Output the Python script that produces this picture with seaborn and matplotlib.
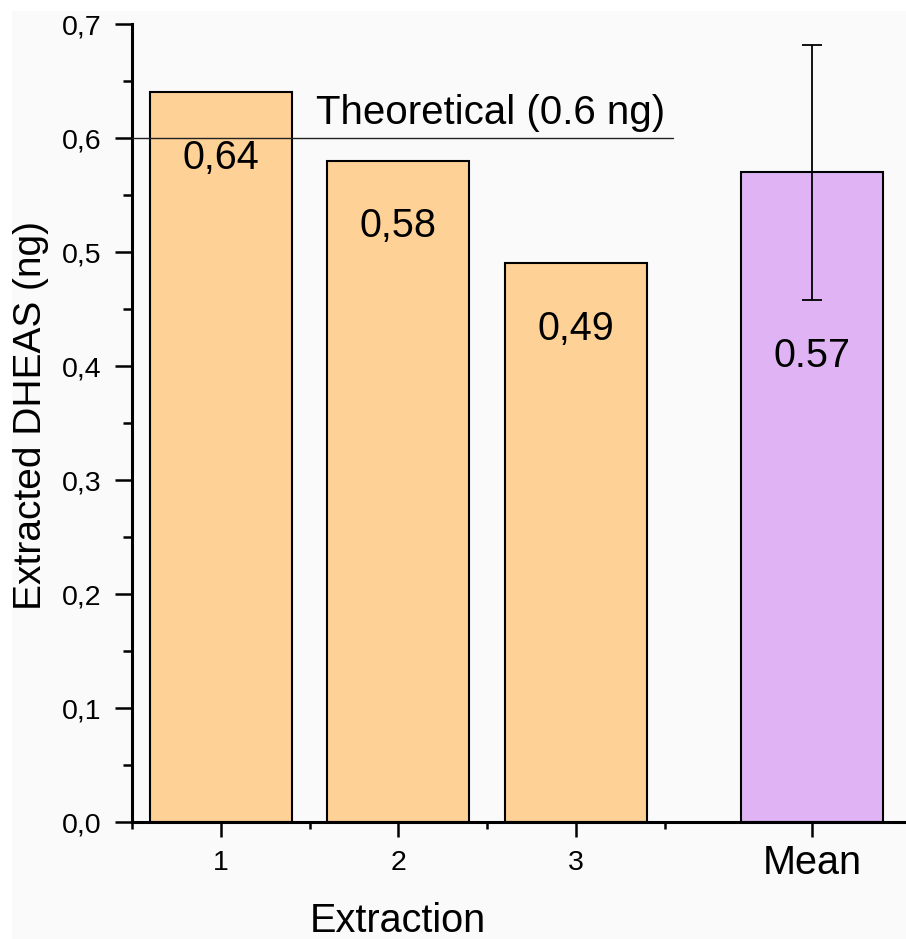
import matplotlib
matplotlib.use("Agg")
import matplotlib.pyplot as plt
import seaborn as sns
import pandas as pd
from matplotlib.patches import Rectangle
from matplotlib.ticker import MultipleLocator

# ---- data ----
categories = ["1", "2", "3", "Mean"]
positions = [1, 2, 3, 4.33]
values = [0.64, 0.58, 0.49, 0.57]
errors = [0.0, 0.0, 0.0, 0.112]
bar_labels = ["0,64", "0,58", "0,49", "0.57"]
bar_colors = ["#FED196", "#FED196", "#FED196", "#E0B4F4"]
theoretical = 0.6
theoretical_label = "Theoretical (0.6 ng)"
yticks = [0.0, 0.1, 0.2, 0.3, 0.4, 0.5, 0.6, 0.7]
ytick_labels = ["0,0", "0,1", "0,2", "0,3", "0,4", "0,5", "0,6", "0,7"]
xlabel = "Extraction"
ylabel = "Extracted DHEAS (ng)"

sns.set_theme(style="ticks")
plt.rcParams["font.family"] = ["Liberation Sans", "DejaVu Sans"]

W, H = 906, 939
fig = plt.figure(figsize=(W / 100, H / 100), dpi=100, facecolor="white")
fig.patches.append(Rectangle((12 / W, 0), 1, (H - 11) / H, transform=fig.transFigure,
                             facecolor="#FAFAFA", edgecolor="none", zorder=-10))

ax = fig.add_axes([132 / W, (H - 822) / H, (W - 132) / W, 798 / H])
ax.set_facecolor("#FAFAFA")

df = pd.DataFrame({"pos": positions, "val": values, "cat": categories})
sns.barplot(data=df, x="pos", y="val", hue="cat", palette=bar_colors,
            native_scale=True, dodge=False, legend=False, width=0.8,
            edgecolor="black", linewidth=1.5, saturation=1, ax=ax, zorder=2)

# error bar on mean
ax.errorbar(positions[3], values[3], yerr=errors[3], fmt="none", ecolor="black",
            elinewidth=1.3, capsize=7.5, capthick=1.3, zorder=4)

# bar value labels
for i, (p, v, lab) in enumerate(zip(positions, values, bar_labels)):
    off = 0.171 if errors[i] > 0 else 0.067
    ax.text(p, v - off, lab, ha="center", va="baseline", fontsize=28.5, color="black", zorder=5)

# theoretical line
ax.plot([0.5, 3.55], [theoretical, theoretical], color="#222222", lw=1.0, zorder=3)
ax.text(1.535, 0.612, theoretical_label, ha="left", va="baseline", fontsize=29, color="black", zorder=5)

ax.set_xlim(0.5, 0.5 + (W - 132) / 177.5)
ax.set_ylim(0, 0.7)
ax.set_yticks(yticks)
ax.set_yticklabels(ytick_labels)
ax.yaxis.set_minor_locator(MultipleLocator(0.05))
ax.set_xticks(positions)
ax.set_xticklabels(categories)
ax.set_xticks([0.5, 1.5, 2.5, 3.5], minor=True)

for side in ["top", "right"]:
    ax.spines[side].set_visible(False)
for side in ["left", "bottom"]:
    ax.spines[side].set_linewidth(2.2)
    ax.spines[side].set_color("black")

ax.tick_params(axis="y", which="major", direction="out", length=12, width=1.8,
               labelsize=20.5, pad=10, colors="black")
ax.tick_params(axis="y", which="minor", direction="out", length=6.5, width=1.8, colors="black")
ax.tick_params(axis="x", which="major", direction="out", length=11, width=1.8,
               labelsize=20.5, pad=9, colors="black")
ax.tick_params(axis="x", which="minor", direction="out", length=5, width=1.8, colors="black")

# larger "Mean" label
mt = ax.get_xticklabels()[3]
mt.set_fontsize(28.5)
ax.xaxis.get_major_ticks()[3].set_pad(5)

ax.set_xlabel(xlabel, fontsize=28.5, color="black")
ax.set_ylabel(ylabel, fontsize=28, color="black")
ax.xaxis.set_label_coords((398 - 132) / (W - 132), -0.10)
ax.yaxis.set_label_coords(-0.107, 0.51)

ax.grid(False)
fig.savefig("out.png", dpi=100, facecolor=fig.get_facecolor())
